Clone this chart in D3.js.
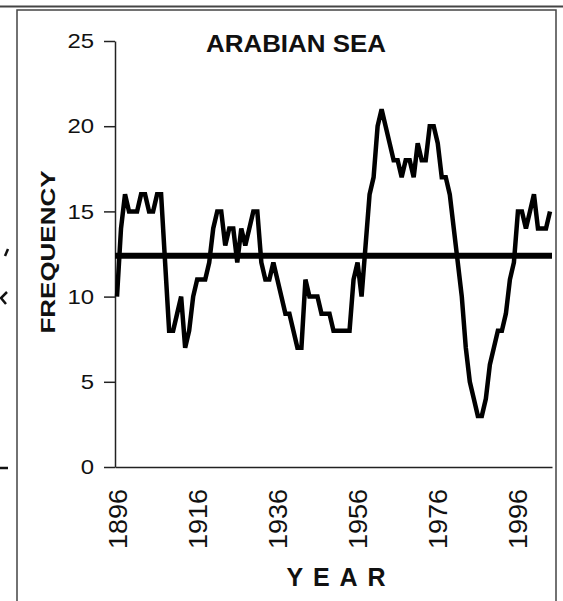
<!DOCTYPE html>
<html>
<head>
<meta charset="utf-8">
<script src="https://cdn.jsdelivr.net/npm/d3@7/dist/d3.min.js"></script>
<style>
  html, body { margin: 0; padding: 0; background: #fff; }
  svg { display: block; }
  text { font-family: "Liberation Sans", Arial, sans-serif; fill: #111; }
</style>
</head>
<body>
<svg id="chart" width="563" height="601"></svg>
<script>
// Annual cyclone frequency, Arabian Sea, 1896-2004
const startYear = 1896;
const frequency = [
  10, 14, 16, 15, 15, 15, 16, 16, 15, 15,
  16, 16, 12, 8, 8, 9, 10, 7, 8, 10,
  11, 11, 11, 12, 14, 15, 15, 13, 14, 14,
  12, 14, 13, 14, 15, 15, 12, 11, 11, 12,
  11, 10, 9, 9, 8, 7, 7, 11, 10, 10,
  10, 9, 9, 9, 8, 8, 8, 8, 8, 11,
  12, 10, 13, 16, 17, 20, 21, 20, 19, 18,
  18, 17, 18, 18, 17, 19, 18, 18, 20, 20,
  19, 17, 17, 16, 14, 12, 10, 7, 5, 4,
  3, 3, 4, 6, 7, 8, 8, 9, 11, 12,
  15, 15, 14, 15, 16, 14, 14, 14, 15
];
const years = frequency.map((_, i) => startYear + i);
const meanFrequency = 12.4;
const xTickYears = [1896, 1916, 1936, 1956, 1976, 1996];
const yTicks = [0, 5, 10, 15, 20, 25];

const svg = d3.select("#chart");

// frame of the panel
const frame = svg.append("g").attr("fill", "none").attr("stroke", "#444");
frame.append("line").attr("x1", 0).attr("x2", 563).attr("y1", 6.5).attr("y2", 6.5).attr("stroke-width", 2);
frame.append("path").attr("d", "M17,601 V10 H556 V601").attr("stroke-width", 1.5);
// edge of the neighbouring panel
const edge = svg.append("g").attr("fill", "none").attr("stroke", "#111").attr("stroke-width", 2.5);
edge.append("path").attr("d", "M0,468 H8");
edge.append("path").attr("d", "M8,249 L5,256");
edge.append("path").attr("d", "M7,292 L1,298 L6,304");

const x = d3.scalePoint().domain(years).range([115, 552]).padding(0.5);
const y = d3.scaleLinear().domain([0, 25]).range([467, 41]);

// y axis
const gy = svg.append("g")
  .attr("transform", "translate(115,0)")
  .call(d3.axisLeft(y).tickValues(yTicks).tickSize(11).tickSizeOuter(0).tickPadding(10));
gy.select(".domain").attr("stroke", "#222").attr("stroke-width", 1.5);
gy.selectAll(".tick line").attr("stroke", "#222").attr("stroke-width", 1.5);
gy.selectAll(".tick text")
  .attr("font-size", 21)
  .attr("fill", "#1a1a1a")
  .attr("textLength", d => String(d).length * 13.3)
  .attr("lengthAdjust", "spacingAndGlyphs");

// x axis
const gx = svg.append("g")
  .attr("transform", "translate(0,467)")
  .call(d3.axisBottom(x).tickValues(xTickYears).tickSize(0).tickSizeOuter(0));
gx.select(".domain").attr("stroke", "#222").attr("stroke-width", 1.5);
gx.selectAll(".tick text")
  .attr("transform", "rotate(-90)")
  .attr("x", -22)
  .attr("y", 0)
  .attr("dy", null)
  .attr("dominant-baseline", "central")
  .attr("text-anchor", "end")
  .attr("font-size", 25)
  .attr("fill", "#1a1a1a")
  .attr("textLength", 60)
  .attr("lengthAdjust", "spacingAndGlyphs");

// mean level
svg.append("line")
  .attr("x1", 115).attr("x2", 552)
  .attr("y1", y(meanFrequency)).attr("y2", y(meanFrequency))
  .attr("stroke", "#000").attr("stroke-width", 6);

// frequency series
const line = d3.line().x((d, i) => x(years[i])).y(d => y(d));
svg.append("path")
  .datum(frequency)
  .attr("d", line)
  .attr("fill", "none")
  .attr("stroke", "#000")
  .attr("stroke-width", 4.5)
  .attr("stroke-linejoin", "miter");

// titles
svg.append("text")
  .attr("x", 296).attr("y", 52)
  .attr("text-anchor", "middle")
  .attr("font-size", 23).attr("font-weight", "bold")
  .attr("textLength", 180).attr("lengthAdjust", "spacingAndGlyphs")
  .text("ARABIAN SEA");

svg.append("text")
  .attr("transform", "translate(47,252) rotate(-90)")
  .attr("text-anchor", "middle")
  .attr("dominant-baseline", "central")
  .attr("font-size", 21).attr("font-weight", "bold")
  .attr("textLength", 163).attr("lengthAdjust", "spacingAndGlyphs")
  .text("FREQUENCY");

svg.append("text")
  .attr("x", 336).attr("y", 586)
  .attr("text-anchor", "middle")
  .attr("font-size", 25).attr("font-weight", "bold")
  .attr("textLength", 99).attr("lengthAdjust", "spacing")
  .text("YEAR");
</script>
</body>
</html>
